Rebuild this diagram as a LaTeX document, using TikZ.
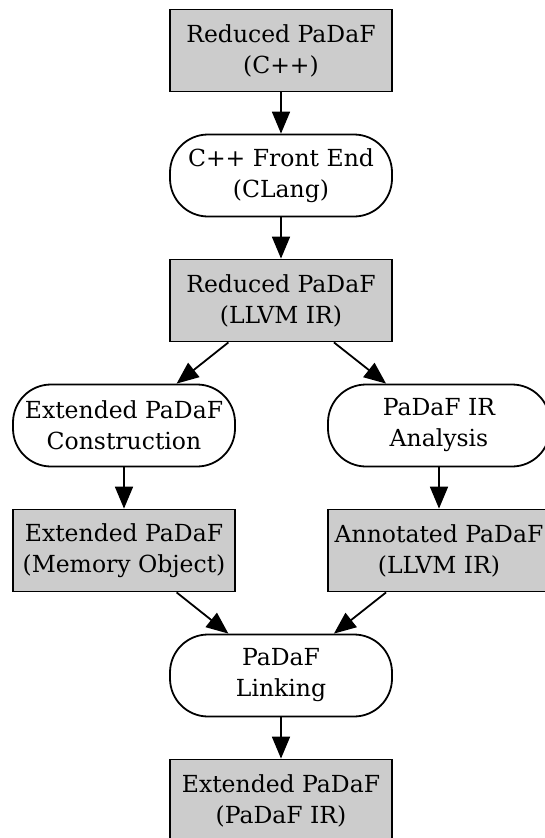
\documentclass[tikz,border=0pt]{standalone}
\usepackage{fontspec}
\setmainfont{DejaVu Serif}
\usetikzlibrary{arrows.meta}
\definecolor{boxgray}{RGB}{204,204,204}
\tikzset{
  databox/.style={draw, fill=boxgray, line width=1.8pt, minimum width=222pt, minimum height=82pt, align=center, inner sep=2pt, font=\fontsize{23.5}{31}\selectfont},
  passbox/.style={draw, fill=white, line width=1.8pt, rounded corners=38pt, minimum width=222pt, minimum height=82pt, align=center, inner sep=2pt, font=\fontsize{23.5}{31}\selectfont},
  flow/.style={line width=1.8pt, -{Triangle[length=22pt, width=18pt]}}
}
\begin{document}
\begin{tikzpicture}[x=1pt, y=-1pt]  % Koordinaten in Pixeln, y nach unten

    % Rahmen des Bildes
    \clip (0,0) rectangle (545,838);

    % mittlere Spalte oben
    \node[databox] (redcpp) at (281,50.5) {Reduced PaDaF\\(C++)};
    \node[passbox] (clang) at (281,175.5) {C++ Front End\\(CLang)};
    \node[databox] (redir) at (281,300.5) {Reduced PaDaF\\(LLVM IR)};

    % linker Zweig
    \node[passbox] (extcon) at (124,425.5) {Extended PaDaF\\Construction};
    \node[databox] (extmem) at (124,550.5) {Extended PaDaF\\(Memory Object)};

    % rechter Zweig
    \node[passbox] (irana) at (439,425.5) {PaDaF IR\\Analysis};
    \node[databox] (annir) at (439,550.5) {Annotated PaDaF\\(LLVM IR)};

    % Zusammenfuehrung
    \node[passbox] (link) at (281,675.5) {PaDaF\\Linking};
    \node[databox] (extir) at (281,800.5) {Extended PaDaF\\(PaDaF IR)};

    % Pfeile
    \draw[flow] (redcpp) -- (clang);
    \draw[flow] (clang) -- (redir);
    \draw[flow] (redir) -- (extcon);
    \draw[flow] (redir) -- (irana);
    \draw[flow] (extcon) -- (extmem);
    \draw[flow] (irana) -- (annir);
    \draw[flow] (extmem) -- (link);
    \draw[flow] (annir) -- (link);
    \draw[flow] (link) -- (extir);

\end{tikzpicture}
\end{document}
